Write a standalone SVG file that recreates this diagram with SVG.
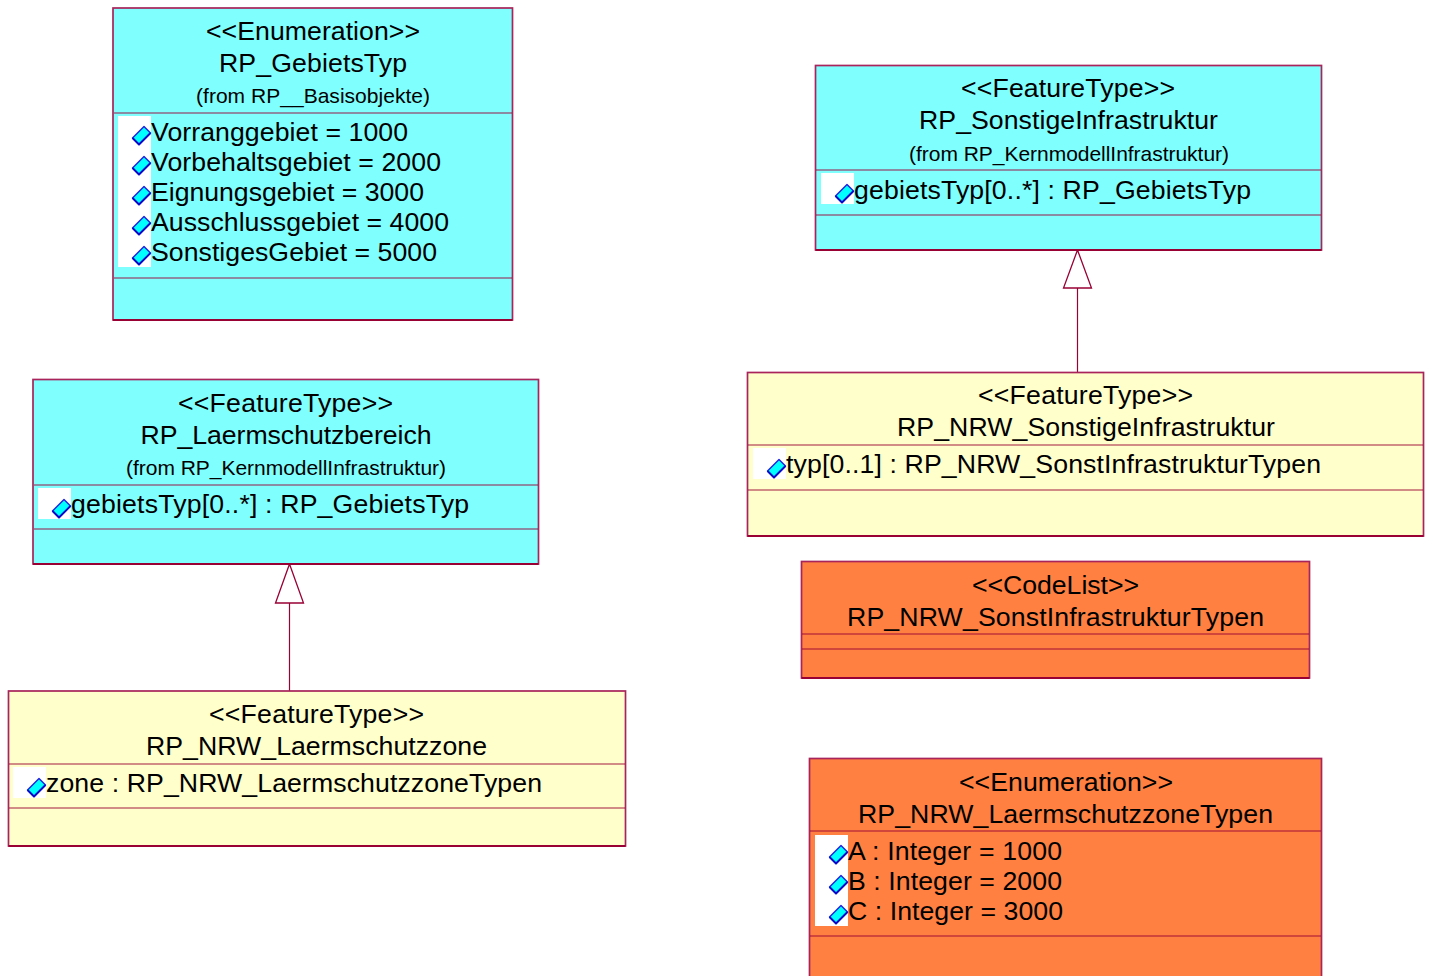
<svg xmlns="http://www.w3.org/2000/svg" width="1433" height="976" viewBox="0 0 1433 976">
<style>
text{font-family:"Liberation Sans",Arial,sans-serif;font-size:26.67px;fill:#000}
.c{text-anchor:middle}
.s{font-size:21px}
.b{stroke:#A8245A;stroke-width:1.7}
.d{stroke:#990033;stroke-width:2;fill:none}
.l{stroke:#990033;stroke-width:1.5;fill:none;opacity:.6}
.cy{fill:#80FFFF}.ye{fill:#FFFFCB}.or{fill:#FF8040}
.w{fill:#fff}
.con{stroke:#990033;stroke-width:1.2;fill:none}
.tri{stroke:#990033;stroke-width:1.3;fill:#fff}
</style>
<defs>
<g id="ic"><polygon points="-9,2.500 2.500,-9 9,-2.500 -2.500,9" fill="#00FFFF" stroke="#2020E0" stroke-width="1.400" stroke-linejoin="round"/><path d="M-9,2.500 -2.500,9 9,-2.500" fill="none" stroke="#0808C8" stroke-width="1.800" stroke-linejoin="round"/></g>
</defs>
<rect width="1433" height="976" fill="#fff"/>
<g id="connectors">
<line class="con" x1="1077.500" y1="288" x2="1077.500" y2="372"/>
<polygon class="tri" points="1077.500,250 1091.500,288 1063.500,288"/>
<line class="con" x1="289.500" y1="603" x2="289.500" y2="691"/>
<polygon class="tri" points="289.500,564 303.500,603 275.500,603"/>
</g>
<g id="RP_GebietsTyp">
<rect class="b cy" x="113" y="8" width="399.500" height="312"/>
<path class="d" d="M113 320H512.500"/>
<path class="l" d="M114 113H512M114 278H512"/>
<rect class="w" x="118" y="116" width="33" height="151"/>
<use href="#ic" x="141.500" y="135.500"/><use href="#ic" x="141.500" y="165.500"/><use href="#ic" x="141.500" y="195.500"/><use href="#ic" x="141.500" y="225.500"/><use href="#ic" x="141.500" y="255.500"/>
<text class="c" x="313" y="40" textLength="214">&lt;&lt;Enumeration&gt;&gt;</text>
<text class="c" x="313" y="72" textLength="188">RP_GebietsTyp</text>
<text class="c s" x="313" y="103" textLength="234">(from RP__Basisobjekte)</text>
<text x="151" y="141" textLength="257">Vorranggebiet = 1000</text>
<text x="151" y="171" textLength="290">Vorbehaltsgebiet = 2000</text>
<text x="151" y="201" textLength="273">Eignungsgebiet = 3000</text>
<text x="151" y="231" textLength="298">Ausschlussgebiet = 4000</text>
<text x="151" y="261" textLength="286">SonstigesGebiet = 5000</text>
</g>
<g id="RP_SonstigeInfrastruktur">
<rect class="b cy" x="815.500" y="65.500" width="506" height="184.500"/>
<path class="d" d="M815.500 250H1321.500"/>
<path class="l" d="M816 170H1321M816 215H1321"/>
<rect class="w" x="821" y="173" width="33" height="31"/>
<use href="#ic" x="844.500" y="193.500"/>
<text class="c" x="1068" y="97" textLength="214">&lt;&lt;FeatureType&gt;&gt;</text>
<text class="c" x="1068.500" y="129" textLength="299">RP_SonstigeInfrastruktur</text>
<text class="c s" x="1069" y="161" textLength="320">(from RP_KernmodellInfrastruktur)</text>
<text x="854" y="199" textLength="397">gebietsTyp[0..*] : RP_GebietsTyp</text>
</g>
<g id="RP_Laermschutzbereich">
<rect class="b cy" x="33" y="379.500" width="505.500" height="184.500"/>
<path class="d" d="M33 564H538.500"/>
<path class="l" d="M34 485H538M34 529H538"/>
<rect class="w" x="38" y="488" width="33" height="31"/>
<use href="#ic" x="61.500" y="508.500"/>
<text class="c" x="285.500" y="412" textLength="215">&lt;&lt;FeatureType&gt;&gt;</text>
<text class="c" x="286" y="444" textLength="291">RP_Laermschutzbereich</text>
<text class="c s" x="286" y="475" textLength="320">(from RP_KernmodellInfrastruktur)</text>
<text x="71" y="513" textLength="398">gebietsTyp[0..*] : RP_GebietsTyp</text>
</g>
<g id="RP_NRW_SonstigeInfrastruktur">
<rect class="b ye" x="747.500" y="372.500" width="676" height="163.500"/>
<path class="d" d="M747.500 536H1423.500"/>
<path class="l" d="M748 445H1423M748 490H1423"/>
<rect class="w" x="753" y="448" width="33" height="31"/>
<use href="#ic" x="776.500" y="468.500"/>
<text class="c" x="1085.500" y="404" textLength="215">&lt;&lt;FeatureType&gt;&gt;</text>
<text class="c" x="1086" y="436" textLength="378">RP_NRW_SonstigeInfrastruktur</text>
<text x="786" y="473" textLength="535">typ[0..1] : RP_NRW_SonstInfrastrukturTypen</text>
</g>
<g id="RP_NRW_SonstInfrastrukturTypen">
<rect class="b or" x="801.500" y="561.500" width="508" height="116.500"/>
<path class="d" d="M801.500 678H1309.500"/>
<path class="l" d="M802 634H1309M802 649H1309"/>
<text class="c" x="1055.500" y="594" textLength="167">&lt;&lt;CodeList&gt;&gt;</text>
<text class="c" x="1055.500" y="626" textLength="417">RP_NRW_SonstInfrastrukturTypen</text>
</g>
<g id="RP_NRW_Laermschutzzone">
<rect class="b ye" x="8.500" y="691" width="617" height="155"/>
<path class="d" d="M8.500 846H625.500"/>
<path class="l" d="M9 764H625M9 808H625"/>
<rect class="w" x="13" y="767" width="33" height="31"/>
<use href="#ic" x="36.500" y="787.500"/>
<text class="c" x="316.500" y="723" textLength="215">&lt;&lt;FeatureType&gt;&gt;</text>
<text class="c" x="316.500" y="755" textLength="341">RP_NRW_Laermschutzzone</text>
<text x="46" y="792" textLength="496">zone : RP_NRW_LaermschutzzoneTypen</text>
</g>
<g id="RP_NRW_LaermschutzzoneTypen">
<rect class="b or" x="809.500" y="758.500" width="512" height="230"/>
<path class="l" d="M810 831H1321M810 936H1321"/>
<rect class="w" x="815" y="835" width="33" height="91"/>
<use href="#ic" x="838.500" y="854.500"/><use href="#ic" x="838.500" y="884.500"/><use href="#ic" x="838.500" y="914.500"/>
<text class="c" x="1066" y="791" textLength="214">&lt;&lt;Enumeration&gt;&gt;</text>
<text class="c" x="1065.500" y="823" textLength="415">RP_NRW_LaermschutzzoneTypen</text>
<text x="848" y="860" textLength="214">A : Integer = 1000</text>
<text x="848" y="890" textLength="214">B : Integer = 2000</text>
<text x="848" y="920" textLength="215">C : Integer = 3000</text>
</g>
</svg>
